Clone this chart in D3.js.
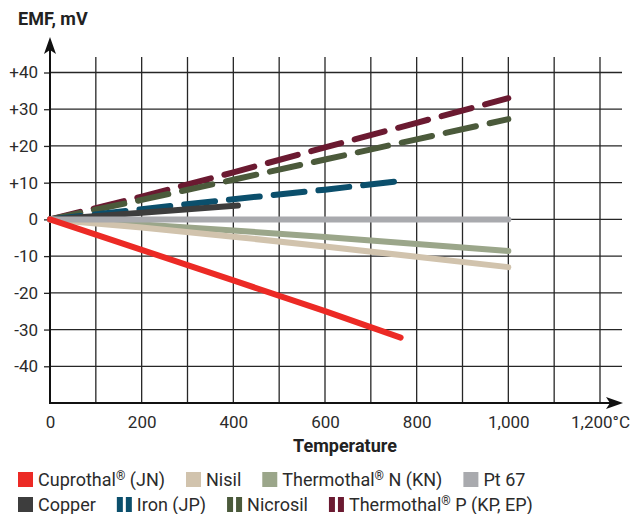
<!DOCTYPE html>
<html>
<head>
<meta charset="utf-8">
<script src="https://cdn.jsdelivr.net/npm/d3@7/dist/d3.min.js"></script>
<style>
  body { margin: 0; background: #fff; }
  svg { font-family: Roboto, "Noto Sans", sans-serif; }
</style>
</head>
<body>
<svg id="chart" width="640" height="514"></svg>
<script>
(function() {

  // axis ticks
  var xTicks = [0, 200, 400, 600, 800, 1000, 1200];
  var xTickLabels = ["0", "200", "400", "600", "800", "1,000", "1,200°C"];
  var yTicks = [-40, -30, -20, -10, 0, 10, 20, 30, 40];
  var yTickLabels = ["-40", "-30", "-20", "-10", "0", "+10", "+20", "+30", "+40"];

  // series: [temperature °C, EMF mV]
  var cuprothal   = [[0, 0], [200, -8.3], [400, -16.6], [600, -25.0], [765, -32.2]];
  var nisil       = [[0, 0], [200, -2.2], [400, -4.7], [600, -7.4], [800, -10.2], [1000, -13.0]];
  var thermothalN = [[0, 0], [200, -1.4], [400, -3.0], [600, -4.8], [800, -6.7], [1000, -8.6]];
  var pt67        = [[0, 0], [1000, 0]];
  var copper      = [[0, 0], [200, 1.8], [410, 3.8]];
  var iron        = [[0, 0], [200, 2.8], [400, 5.5], [600, 8.1], [755, 10.3]];
  var nicrosil    = [[0, 0], [200, 5.3], [400, 10.8], [600, 16.3], [800, 21.8], [1000, 27.3]];
  var thermothalP = [[0, 0], [200, 6.2], [400, 12.8], [600, 19.6], [800, 26.3], [1000, 33.0]];

  var seriesNames = ["Cuprothal® (JN)", "Nisil", "Thermothal® N (KN)", "Pt 67",
                     "Copper", "Iron (JP)", "Nicrosil", "Thermothal® P (KP, EP)"];
  var seriesValues = [cuprothal, nisil, thermothalN, pt67, copper, iron, nicrosil, thermothalP];
  var seriesDashed = [false, false, false, false, false, true, true, true];
  var colors = ["#ec2a25", "#d1c3ad", "#9ba68a", "#a9aaae", "#3d3d3d", "#0b4f6c", "#4b5a3b", "#6b1a31"];
  var drawOrder = [7, 6, 5, 4, 2, 1, 3, 0];

  var svg = d3.select("#chart");

  var x = d3.scaleLinear().domain([0, 1200]).range([50, 600]);
  var y = d3.scaleLinear().domain([-50, 40]).range([403, 72.5]);

  // grid
  var grid = svg.append("g").attr("stroke", "#262626").attr("stroke-width", 1.3);
  grid.selectAll("line.v")
      .data(d3.range(100, 1201, 100))
      .enter().append("line")
      .attr("class", "v")
      .attr("x1", function(d) { return x(d); })
      .attr("x2", function(d) { return x(d); })
      .attr("y1", 57)
      .attr("y2", y(-50));
  grid.selectAll("line.h")
      .data(yTicks)
      .enter().append("line")
      .attr("class", "h")
      .attr("x1", x(0))
      .attr("x2", 622)
      .attr("y1", function(d) { return y(d); })
      .attr("y2", function(d) { return y(d); });

  // axes
  var yAxis = svg.append("g")
      .attr("transform", "translate(" + x(0) + ",0)")
      .call(d3.axisLeft(y).tickValues(yTicks)
        .tickFormat(function(d, i) { return yTickLabels[i]; })
        .tickSize(6).tickPadding(6));
  var xAxis = svg.append("g")
      .attr("transform", "translate(0," + y(-50) + ")")
      .call(d3.axisBottom(x).tickValues(xTicks)
        .tickFormat(function(d, i) { return xTickLabels[i]; })
        .tickSize(0).tickPadding(13));
  [yAxis, xAxis].forEach(function(a) {
    a.select(".domain").remove();
    a.selectAll(".tick line").attr("stroke", "#262626").attr("stroke-width", 1.3);
    a.selectAll(".tick text")
      .attr("fill", "#2b2b2b")
      .style("font-size", "17px")
      .style("font-family", "Roboto, sans-serif");
  });

  svg.append("line")
      .attr("x1", x(0)).attr("x2", x(0))
      .attr("y1", y(-50) + 1).attr("y2", 46)
      .attr("stroke", "#111").attr("stroke-width", 2);
  svg.append("line")
      .attr("x1", x(0) - 1).attr("x2", 612)
      .attr("y1", y(-50)).attr("y2", y(-50))
      .attr("stroke", "#111").attr("stroke-width", 2);
  svg.append("path")
      .attr("d", "M50,37 L56,54 L50,50 L44,54 Z")
      .attr("fill", "#111");
  svg.append("path")
      .attr("d", "M623,403 L606,397 L610,403 L606,409 Z")
      .attr("fill", "#111");

  // titles
  svg.append("text")
      .attr("x", 18).attr("y", 25)
      .style("font-size", "18px").style("font-weight", "bold")
      .attr("fill", "#222")
      .text("EMF, mV");
  svg.append("text")
      .attr("x", 345).attr("y", 452)
      .attr("text-anchor", "middle")
      .style("font-size", "18px").style("font-weight", "bold")
      .attr("fill", "#222")
      .text("Temperature");

  // lines
  var line = d3.line()
      .x(function(d) { return x(d[0]); })
      .y(function(d) { return y(d[1]); });

  svg.append("g").selectAll("path")
      .data(drawOrder)
      .enter().append("path")
      .attr("d", function(i) { return line(seriesValues[i]); })
      .attr("fill", "none")
      .attr("stroke", function(i) { return colors[i]; })
      .attr("stroke-width", 6)
      .attr("stroke-linecap", "round")
      .attr("stroke-linejoin", "round")
      .attr("stroke-dasharray", function(i) { return seriesDashed[i] ? "31,14" : null; });

  // legend
  function addLabel(g, name, tx, ty) {
    var t = g.append("text").attr("x", tx).attr("y", ty)
        .style("font-size", "18px").attr("fill", "#2b2b2b");
    var parts = name.split("®");
    parts.forEach(function(p, k) {
      t.append("tspan").text(p).attr("dy", k > 0 ? 6 : null);
      if (k < parts.length - 1) {
        t.append("tspan").text("®").attr("dy", -6).style("font-size", "12px");
      }
    });
    return t;
  }

  var legend = svg.append("g");
  var rows = [[0, 1, 2, 3], [4, 5, 6, 7]];
  rows.forEach(function(row, r) {
    var cx = 18;
    var top = 472 + r * 25;
    row.forEach(function(i) {
      if (seriesDashed[i]) {
        legend.append("rect").attr("x", cx).attr("y", top).attr("width", 6).attr("height", 15).attr("fill", colors[i]);
        legend.append("rect").attr("x", cx + 9).attr("y", top).attr("width", 6).attr("height", 15).attr("fill", colors[i]);
      } else {
        legend.append("rect").attr("x", cx).attr("y", top).attr("width", 15).attr("height", 15).attr("fill", colors[i]);
      }
      var t = addLabel(legend, seriesNames[i], cx + 20, top + 14);
      cx = cx + 20 + t.node().getComputedTextLength() + 21;
    });
  });

})();
</script>
</body>
</html>
